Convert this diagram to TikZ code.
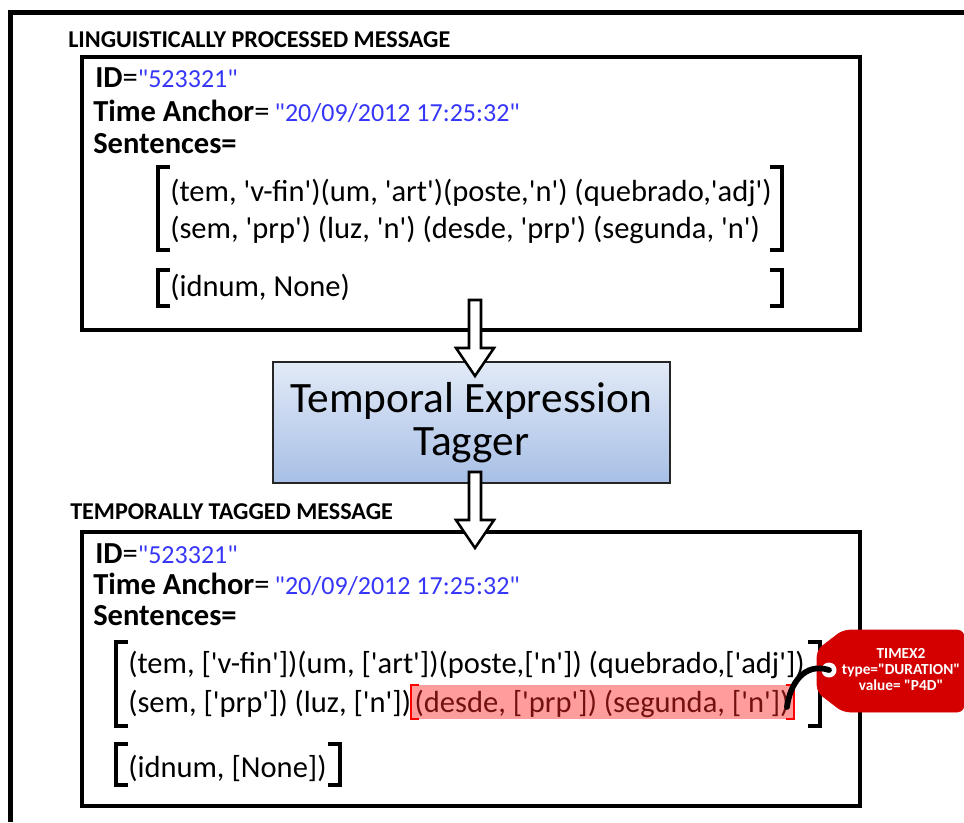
\documentclass[tikz,border=0pt]{standalone}
\usepackage{fontspec}
\setmainfont{Carlito}[Ligatures=TeXOff]
\usetikzlibrary{calc}
\definecolor{idblue}{HTML}{3636F8}
\definecolor{tagred}{HTML}{D40000}
\definecolor{gradtop}{HTML}{E2EAF7}
\definecolor{gradbot}{HTML}{A7BFE6}
\newcommand\idtext{\textbf{ID}=\textcolor{idblue}{\fontsize{19.5}{23}\selectfont"523321"}}
\newcommand\tatext{\textbf{Time Anchor}=\,\textcolor{idblue}{\fontsize{19.5}{23}\selectfont"20/09/2012 17:25:32"}}
\newcommand\blockarrow[2]{%
  \draw[arrowstyle] ($(#1)+(-6,0)$) -- ($(#2)+(-6,-28)$) -- ($(#2)+(-19,-28)$) -- (#2)
    -- ($(#2)+(19,-28)$) -- ($(#2)+(6,-28)$) -- ($(#1)+(6,0)$) -- cycle;}
\begin{document}
\begin{tikzpicture}[x=0.75pt,y=-0.75pt,
  txt/.style={anchor=base west, inner sep=0pt, font=\fontsize{22.9}{27}\selectfont},
  ttl/.style={anchor=base west, inner sep=0pt, font=\bfseries\fontsize{18.1}{22}\selectfont},
  boxline/.style={line width=2.4pt},
  brk/.style={line width=3pt},
  hlbrk/.style={line width=1.6pt, draw=red},
  arrowstyle/.style={draw=black, fill=white, line width=1.9pt, line join=miter},
  tagger/.style={draw=black!85, line width=1.5pt, top color=gradtop, bottom color=gradbot,
    minimum width=297.75pt, minimum height=90.75pt, align=center, inner sep=0pt,
    font=\fontsize{32.5}{32}\selectfont},
  tagtext/.style={text=white, align=center, inner sep=0pt, font=\bfseries\fontsize{11.5}{12}\selectfont}
]
\useasboundingbox (0,0) rectangle (964,822);

% outer frame
\draw[line width=3.75pt] (10,822) -- (10,12) -- (964,12);

% ===== upper message =====
\node[ttl] (t1) at (68,47) {LINGUISTICALLY PROCESSED MESSAGE};
\draw[boxline] (82,57) rectangle (860,330);
\node[txt] (id1) at (95,87) {\idtext};
\node[txt] (ta1) at (93,121) {\tatext};
\node[txt] (se1) at (93,153) {\textbf{Sentences=}};
\node[txt] (u1) at (170,201) {(tem, 'v-fin')(um, 'art')(poste,'n') (quebrado,'adj')};
\node[txt] (u2) at (170,238) {(sem, 'prp') (luz, 'n') (desde, 'prp') (segunda, 'n')};
\node[txt] (u3) at (170,296) {(idnum, None)};
\draw[brk] (170,167) -- (158,167) -- (158,250) -- (170,250);
\draw[brk] (770,167) -- (782,167) -- (782,250) -- (770,250);
\draw[brk] (170,270) -- (158,270) -- (158,306) -- (170,306);
\draw[brk] (770,270) -- (782,270) -- (782,306) -- (770,306);

% ===== tagger =====
\node[tagger] (tagger) at (471.5,422.5) {Temporal Expression\\Tagger};
\coordinate (a1s) at (475,300);
\coordinate (a1e) at (475,376);
\coordinate (a2s) at (475,472);
\coordinate (a2e) at (475,548);
\blockarrow{a1s}{a1e}

% ===== lower message =====
\node[ttl] (t2) at (70,519) {TEMPORALLY TAGGED MESSAGE};
\draw[boxline] (82,532) rectangle (860,806);
\blockarrow{a2s}{a2e}
\node[txt] (id2) at (95,563) {\idtext};
\node[txt] (ta2) at (93,594) {\tatext};
\node[txt] (se2) at (93,625) {\textbf{Sentences=}};
\node[txt] (l1) at (128,673) {(tem, ['v-fin'])(um, ['art'])(poste,['n']) (quebrado,['adj'])};
\node[txt] (l2a) at (128,712) {(sem, ['prp']) (luz, ['n'])};
\node[txt] (l2b) at ($(l2a.base east)+(3,0)$) {(desde, ['prp']) (segunda, ['n'])};
\node[txt] (l3) at (128,777) {(idnum, [None])};
\draw[brk] (128,642) -- (116,642) -- (116,726) -- (128,726);
\draw[brk] (808,642) -- (820,642) -- (820,726) -- (808,726);
\draw[brk] (128,744) -- (116,744) -- (116,785) -- (128,785);
\draw[brk] (328,744) -- (340,744) -- (340,785) -- (328,785);
% highlight
\fill[red!85, fill opacity=0.45] ($(l2b.base west)+(-3,-27)$) rectangle ($(l2b.base east)+(4,7)$);
\draw[hlbrk] ($(l2b.base west)+(5,-27)$) -| ($(l2b.base west)+(-3,7)$) -- ++(8,0);
\draw[hlbrk] ($(l2b.base east)+(-4,-27)$) -| ($(l2b.base east)+(4,7)$) -- ++(-8,0);

% ===== tag =====
\draw[fill=tagred, draw=tagred, rounded corners=5pt] (843,630) -- (964,630) -- (964,712) -- (843,712) -- (817,692) -- (817,650) -- cycle;
\coordinate (hole) at (829,670);
\fill[white] (hole) circle (7.5);
\node[tagtext] (timex) at (901,670) {TIMEX2\\type="DURATION"\\value= "P4D"};
\coordinate (strend) at (787,707);
\draw[line width=4.3pt, line cap=round] (hole) .. controls (804,662) and (790,684) .. (strend);
\end{tikzpicture}
\end{document}
